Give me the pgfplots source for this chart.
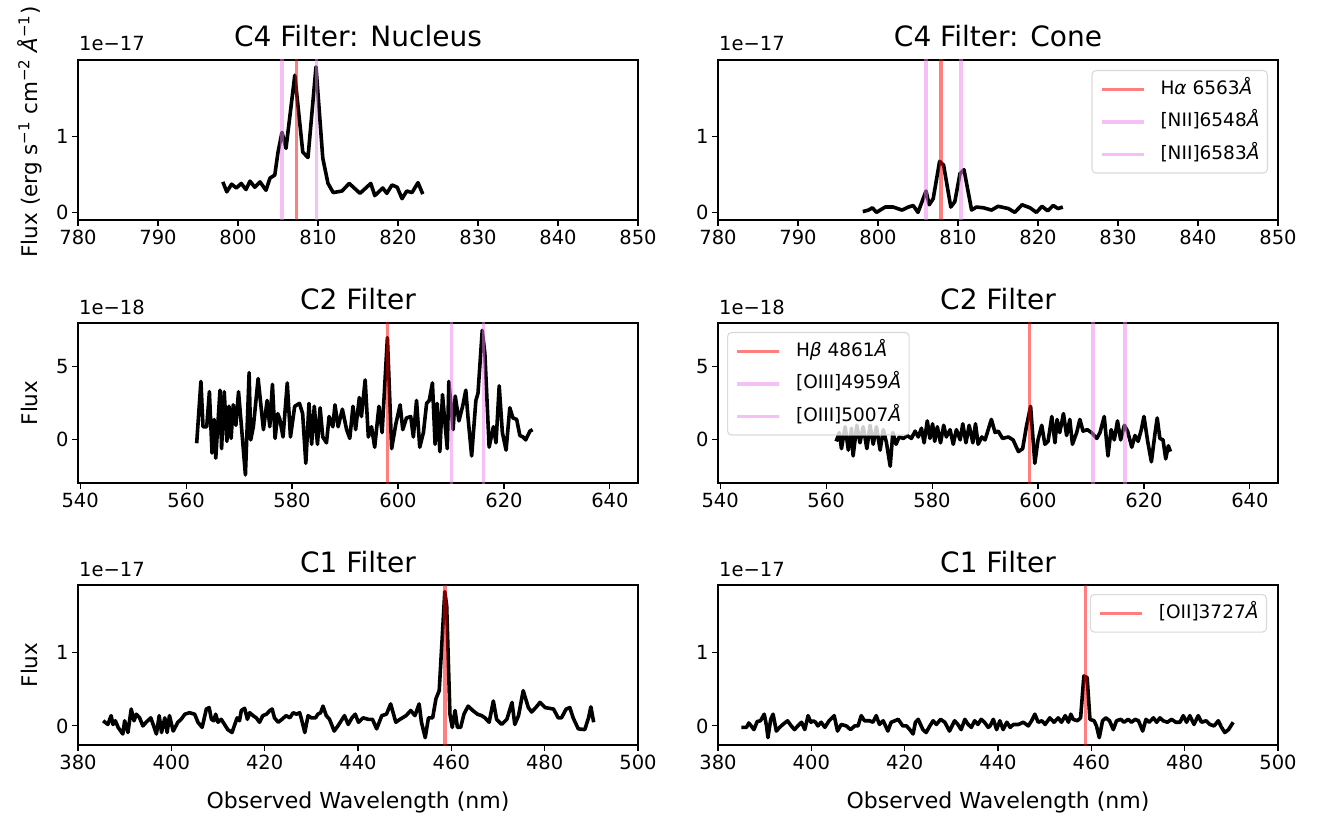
\documentclass[border=0pt]{standalone}
\usepackage{pgfplots}
\pgfplotsset{compat=1.18}
\usepackage{fontspec}
\setmainfont{DejaVu Sans}
\definecolor{nii}{RGB}{238,130,238}
\pgfplotsset{
  panel/.style={
    scale only axis, width=560pt, height=160pt,
    axis line style={line width=1.1pt},
    every tick/.style={line width=1.1pt, black},
    major tick length=6pt,
    tick align=outside,
    tick pos=left,
    /pgf/number format/assume math mode=true,
    tick label style={font=\fontsize{19.5}{22}\selectfont},
    every axis title/.style={at={(axis description cs:0.5,1.08125)}, anchor=base, font=\fontsize{28}{30}\selectfont, inner sep=0pt},
    every axis y label/.style={at={(axis description cs:-0.0732,0.5)}, rotate=90, anchor=base, inner sep=0pt, font=\fontsize{21.5}{24}\selectfont},
    every axis x label/.style={at={(axis description cs:0.5,-0.39375)}, anchor=base, inner sep=0pt, font=\fontsize{22}{24}\selectfont},
    legend cell align=left,
    legend image code/.code={\draw[#1, line width=3.5pt] (0pt,0pt) -- (42pt,0pt);},
    legend style={draw=black!18, line width=1.1pt, fill=white, fill opacity=0.8, draw opacity=0.8, text opacity=1,
      rounded corners=4pt, inner xsep=8pt, inner ysep=10pt,
      font=\fontsize{18.5}{20}\selectfont, row sep=15pt, column sep=15pt,
      nodes={inner sep=0pt, text height=13.5pt, text depth=4pt}},
  },
  dat/.style={black, line width=3.6pt, line join=round, mark=none},
  hline/.style={red, opacity=0.5, line width=3.5pt, mark=none},
  nline/.style={nii, opacity=0.5, line width=3.5pt, mark=none},
}
\newcommand{\offs}[2]{\node[anchor=base west, inner sep=0pt, font=\fontsize{19.5}{22}\selectfont] at ([xshift=1pt,yshift=9pt]#1.north west) {#2};}
\begin{document}
\begin{tikzpicture}
\path[use as bounding box] (0,0) rectangle (1327pt,-821pt);

% ---------------- Top left
\begin{axis}[panel, name=tl, at={(78pt,-220pt)}, anchor=south west,
  xmin=780, xmax=850, ymin=-0.1, ymax=2.0, xtick={780,790,...,850}, ytick={0,1},
  title={C4 Filter: Nucleus},
  ylabel={Flux (erg s\textsuperscript{−1} cm\textsuperscript{−2} \textit{Å}\textsuperscript{−1})},
  ylabel style={at={(axis description cs:-0.0732,0.55)}}]
\addplot[dat] coordinates {
(798.1,0.40) (798.6,0.27) (799.2,0.37) (799.8,0.32) (800.4,0.38) (801.0,0.30) (801.5,0.41) (802.1,0.33)
(802.75,0.40) (803.5,0.29) (804.0,0.45) (804.6,0.49) (805.0,0.79) (805.5,1.05) (806.0,0.84) (807.1,1.80)
(808.1,0.79) (808.75,0.72) (809.75,1.91) (810.6,0.71) (811.25,0.38) (811.9,0.26) (813.0,0.28) (813.9,0.38)
(815.25,0.25) (816.6,0.38) (817.1,0.22) (818.1,0.32) (818.6,0.25) (819.25,0.36) (819.9,0.33) (820.5,0.18)
(821.1,0.28) (821.75,0.26) (822.5,0.39) (823.1,0.24)};
\addplot[hline] coordinates {(807.3,-5) (807.3,5)};
\addplot[nline] coordinates {(805.5,-5) (805.5,5)};
\addplot[nline] coordinates {(809.8,-5) (809.8,5)};
\end{axis}
\offs{tl}{1e−17}

% ---------------- Top right
\begin{axis}[panel, name=tr, at={(718pt,-220pt)}, anchor=south west,
  xmin=780, xmax=850, ymin=-0.1, ymax=2.0, xtick={780,790,...,850}, ytick={0,1},
  title={C4 Filter: Cone},
  legend style={at={(1,1)}, anchor=north east, xshift=-10pt, yshift=-10pt}]
\addplot[dat, forget plot] coordinates {
(798.1,0.01) (798.8,0.03) (799.3,0.06) (799.8,0.00) (800.9,0.07) (801.9,0.07) (803.0,0.03) (803.8,0.07)
(804.4,0.09) (805.0,0.00) (806.0,0.28) (806.4,0.10) (806.9,0.18) (807.7,0.67) (808.2,0.62) (809.1,0.07)
(809.6,0.14) (810.25,0.51) (810.75,0.56) (811.7,0.03) (812.3,0.07) (813.2,0.06) (814.2,0.03) (815.0,0.08)
(816.3,0.05) (817.1,0.00) (818.0,0.10) (819.0,0.06) (819.8,0.00) (820.5,0.08) (821.2,0.02) (821.9,0.09)
(822.5,0.05) (823.1,0.07)};
\addplot[hline] coordinates {(807.9,-5) (807.9,5)};
\addlegendentry{H\textit{α} 6563\textit{Å}}
\addplot[nline] coordinates {(806.0,-5) (806.0,5)};
\addlegendentry{[NII]6548\textit{Å}}
\addplot[nline] coordinates {(810.4,-5) (810.4,5)};
\addlegendentry{[NII]6583\textit{Å}}
\end{axis}
\offs{tr}{1e−17}

% ---------------- Middle left
\begin{axis}[panel, name=ml, at={(78pt,-483pt)}, anchor=south west,
  xmin=539.6, xmax=645.3, ymin=-2.95, ymax=8.0, xtick={540,560,...,640}, ytick={0,5},
  title={C2 Filter}, ylabel={Flux}]
\addplot[dat] coordinates {
(562.0,-0.23) (562.8,4.0) (563.2,0.9) (563.9,0.9) (564.4,3.3) (564.9,-0.9) (565.3,1.4) (565.6,-1.25)
(566.4,3.4) (566.7,-0.6) (567.2,3.3) (567.7,-0.1) (568.1,2.3) (568.5,0.1) (568.9,2.4) (569.4,1.0)
(569.9,3.3) (570.5,0.7) (571.2,-2.4) (571.9,4.6) (572.2,0.0) (572.7,0.9) (573.6,4.2) (574.6,0.7)
(575.3,2.7) (575.8,0.9) (576.3,3.8) (576.8,0.1) (577.3,1.8) (577.7,1.4) (578.3,0.2) (579.1,3.9)
(579.7,0.2) (580.5,2.3) (581.4,2.5) (582.0,1.8) (582.6,-1.6) (583.2,2.5) (583.7,-0.3) (584.2,2.3)
(584.8,-0.3) (585.3,2.2) (585.8,0.2) (586.5,-0.2) (587.0,1.6) (587.7,0.9) (588.1,2.4) (588.7,0.9)
(589.5,2.1) (590.3,0.7) (590.9,0.1) (591.5,2.3) (592.0,0.7) (592.7,2.9) (593.1,1.6) (593.8,4.1)
(594.4,0.2) (595.0,0.9) (595.6,-0.5) (596.4,2.3) (597.0,0.5) (598.0,7.0) (598.8,-0.6) (599.6,1.1)
(600.4,2.4) (600.9,0.7) (601.6,1.5) (602.4,1.6) (602.9,0.2) (603.5,2.7) (604.1,-0.5) (604.8,0.5)
(605.4,2.5) (605.9,2.7) (606.5,3.9) (607.0,-0.3) (607.4,2.5) (607.9,-0.8) (608.4,3.1) (608.8,1.4)
(609.3,-0.6) (609.6,4.0) (610.4,0.7) (610.8,3.0) (611.5,1.3) (612.2,2.3) (612.8,3.4) (613.2,1.6)
(613.9,-1.1) (614.7,2.7) (615.1,3.2) (615.9,7.5) (616.4,5.9) (617.2,-0.5) (618.0,0.9) (618.5,-0.2)
(619.1,3.7) (619.7,0.5) (620.4,-0.7) (621.1,2.2) (621.7,1.5) (622.4,1.4) (623.0,0.3) (623.6,0.2)
(624.1,0.0) (624.9,0.6) (625.4,0.7)};
\addplot[hline] coordinates {(598.0,-20) (598.0,20)};
\addplot[nline] coordinates {(610.1,-20) (610.1,20)};
\addplot[nline] coordinates {(616.1,-20) (616.1,20)};
\end{axis}
\offs{ml}{1e−18}

% ---------------- Middle right
\begin{axis}[panel, name=mr, at={(718pt,-483pt)}, anchor=south west,
  xmin=539.6, xmax=645.3, ymin=-2.95, ymax=8.0, xtick={540,560,...,640}, ytick={0,5},
  title={C2 Filter},
  legend style={at={(0,1)}, anchor=north west, xshift=9pt, yshift=-9pt}]
\addplot[dat, forget plot] coordinates {
(561.9,-0.1) (562.5,0.5) (562.9,-0.6) (563.6,0.9) (564.2,-0.7) (564.8,0.8) (565.1,-1.1) (565.8,1.0)
(566.4,-0.2) (567.0,0.9) (567.7,-0.6) (568.3,1.0) (568.9,-0.3) (569.5,0.9) (570.2,-0.7) (570.8,0.7)
(571.4,-0.2) (572.1,-1.8) (572.6,0.5) (573.2,-0.3) (573.8,0.2) (574.6,0.1) (575.3,0.3) (576.1,0.1)
(576.8,0.6) (577.4,0.2) (578.0,0.8) (578.5,-0.2) (579.1,1.3) (579.6,0.1) (580.1,1.1) (580.5,-0.1)
(581.0,0.9) (581.6,-0.2) (582.2,1.0) (582.7,0.2) (583.4,0.7) (584.0,-0.3) (584.6,0.7) (585.3,0.0)
(585.8,1.1) (586.4,-0.2) (587.0,1.0) (587.7,-0.2) (588.2,1.1) (588.7,-0.3) (589.4,0.2) (590.0,0.0)
(590.6,0.7) (591.2,1.4) (591.9,0.5) (592.5,0.6) (593.3,0.1) (594.4,0.2) (595.3,0.0) (596.3,-0.8)
(597.1,-0.6) (597.8,0.9) (598.6,2.3) (599.4,-1.6) (600.0,0.0) (600.7,1.0) (601.3,-0.3) (601.9,-0.1)
(602.6,1.6) (603.2,-0.2) (603.6,1.4) (604.1,0.5) (604.8,1.8) (605.4,0.3) (606.0,1.4) (606.5,-0.3)
(607.3,0.5) (607.9,1.4) (608.5,0.6) (609.3,0.7) (610.1,0.5) (611.1,0.1) (611.7,0.5) (612.5,1.6)
(613.2,-1.1) (613.8,0.7) (614.4,0.0) (615.0,1.3) (615.6,0.0) (616.3,1.0) (616.9,0.6) (617.7,-0.5)
(618.3,0.3) (618.9,-0.1) (619.5,0.7) (620.0,1.6) (620.7,-0.1) (621.4,-1.5) (622.1,0.5) (622.5,1.5)
(623.0,0.1) (623.6,0.0) (624.1,-1.3) (624.6,-0.4) (625.0,-0.8)};
\addplot[hline] coordinates {(598.4,-20) (598.4,20)};
\addlegendentry{H\textit{β} 4861\textit{Å}}
\addplot[nline] coordinates {(610.4,-20) (610.4,20)};
\addlegendentry{[OIII]4959\textit{Å}}
\addplot[nline] coordinates {(616.4,-20) (616.4,20)};
\addlegendentry{[OIII]5007\textit{Å}}
\end{axis}
\offs{mr}{1e−18}

% ---------------- Bottom left
\begin{axis}[panel, name=bl, at={(78pt,-745pt)}, anchor=south west,
  xmin=380, xmax=500, ymin=-0.26, ymax=1.92, xtick={380,400,...,500}, ytick={0,1},
  title={C1 Filter}, ylabel={Flux}, xlabel={Observed Wavelength (nm)}]
\addplot[dat] coordinates {
(385.4,0.07) (386.4,0.02) (387.1,0.14) (387.5,0.02) (388.0,0.07) (388.6,-0.02) (389.6,-0.11) (390.0,0.07)
(390.7,-0.09) (391.4,0.23) (392.0,0.07) (392.5,0.16) (393.2,0.11) (393.9,0.00) (394.6,0.05) (395.6,0.11)
(396.1,0.02) (396.8,-0.11) (397.4,0.14) (397.9,-0.09) (398.6,0.11) (399.1,-0.09) (399.6,0.14) (400.4,-0.07)
(401.4,0.05) (402.1,0.09) (402.9,0.16) (403.9,0.18) (405.0,0.16) (405.7,0.05) (406.6,-0.02) (407.5,0.23)
(408.1,0.25) (408.6,0.09) (409.1,0.07) (409.5,0.16) (410.0,0.05) (410.7,0.09) (411.4,0.02) (412.1,-0.05)
(413.0,-0.09) (413.6,0.02) (414.1,0.11) (414.6,0.07) (415.0,0.21) (415.7,0.24) (416.3,0.09) (416.8,0.18)
(417.5,0.14) (418.2,0.11) (418.9,0.05) (419.6,0.14) (420.4,0.16) (421.1,0.21) (421.6,0.23) (422.1,0.11)
(422.9,0.05) (423.7,0.09) (424.6,0.14) (425.4,0.11) (426.1,0.18) (426.8,0.16) (427.5,0.18) (427.9,0.09)
(428.6,-0.09) (429.3,0.14) (430.0,0.11) (430.9,0.11) (431.4,0.16) (432.0,0.18) (432.5,0.27) (433.2,0.14)
(433.9,0.09) (434.9,-0.07) (435.7,0.00) (436.4,0.07) (437.1,0.14) (437.9,0.02) (438.7,0.11) (439.4,0.16)
(440.1,0.05) (441.1,0.11) (442.2,0.09) (443.1,0.09) (444.0,-0.04) (445.1,0.14) (446.1,0.16) (447.0,0.30)
(448.1,0.05) (449.0,0.09) (450.3,0.14) (451.3,0.21) (452.2,0.14) (453.1,0.30) (453.6,0.05) (454.4,-0.16)
(455.1,0.11) (456.0,0.11) (456.7,0.37) (457.4,0.48) (458.6,1.83) (459.0,1.64) (459.7,0.16) (460.2,-0.02)
(460.8,0.21) (461.3,-0.02) (462.0,-0.02) (462.7,0.16) (463.6,0.27) (464.6,0.21) (465.6,0.16) (466.5,0.14)
(467.2,0.11) (468.1,0.05) (469.0,0.34) (469.7,0.09) (470.8,0.02) (471.9,0.09) (473.0,0.32) (473.6,0.02)
(474.4,0.14) (475.4,0.48) (476.5,0.25) (477.2,0.19) (478.1,0.25) (479.0,0.32) (480.1,0.25) (481.0,0.24)
(481.9,0.23) (482.9,0.11) (483.6,0.11) (484.6,0.23) (485.4,0.25) (486.1,0.11) (487.2,-0.04) (488.6,-0.05)
(489.4,0.11) (489.9,0.26) (490.5,0.05)};
\addplot[hline] coordinates {(458.6,-5) (458.6,5)};
\end{axis}
\offs{bl}{1e−17}

% ---------------- Bottom right
\begin{axis}[panel, name=br, at={(718pt,-745pt)}, anchor=south west,
  xmin=380, xmax=500, ymin=-0.26, ymax=1.92, xtick={380,400,...,500}, ytick={0,1},
  title={C1 Filter}, xlabel={Observed Wavelength (nm)},
  legend style={at={(1,1)}, anchor=north east, xshift=-11pt, yshift=-9pt}]
\addplot[dat, forget plot] coordinates {
(385.0,-0.02) (386.1,-0.02) (386.6,0.04) (387.1,0.00) (387.7,-0.05) (388.4,0.06) (389.1,0.07) (389.9,0.16)
(390.4,0.00) (390.7,-0.16) (391.3,0.09) (391.8,0.16) (392.5,-0.07) (393.2,-0.02) (393.9,0.02) (394.9,0.07)
(395.7,0.00) (396.4,-0.05) (397.1,0.00) (397.9,0.05) (398.6,-0.05) (399.3,0.14) (399.9,0.05) (400.4,0.07)
(400.9,0.05) (401.4,0.00) (402.1,0.05) (402.9,-0.02) (403.8,0.07) (404.9,0.14) (405.6,-0.07) (406.4,0.02)
(407.5,0.00) (408.4,-0.05) (409.3,0.00) (410.0,0.00) (410.7,0.14) (411.4,0.07) (412.5,0.07) (413.2,0.05)
(413.9,0.14) (414.6,0.02) (415.4,0.07) (416.4,-0.07) (417.1,0.05) (417.9,0.07) (418.6,0.09) (419.6,0.00)
(420.4,0.00) (421.1,-0.05) (421.8,-0.11) (422.3,0.05) (422.9,0.09) (423.4,0.02) (423.9,-0.05) (424.6,-0.09)
(425.4,0.00) (426.1,0.07) (426.8,0.02) (427.7,0.09) (428.6,0.05) (429.6,-0.07) (430.7,0.07) (431.4,0.02)
(432.1,-0.05) (432.9,0.09) (433.6,0.02) (434.3,-0.02) (435.0,0.07) (435.7,0.02) (436.4,0.09) (437.1,0.05)
(437.9,-0.02) (438.3,0.00) (439.0,0.09) (439.7,-0.05) (440.4,0.07) (441.1,-0.05) (441.9,0.05) (442.6,-0.02)
(443.3,0.02) (444.4,0.02) (445.4,0.05) (446.5,0.00) (447.2,0.07) (447.9,0.16) (448.6,0.05) (449.4,0.07)
(450.1,0.02) (451.1,0.11) (452.0,0.05) (452.9,0.11) (453.6,0.05) (454.4,0.14) (455.1,0.05) (455.6,0.16)
(456.1,0.09) (457.0,0.07) (457.7,0.11) (458.4,0.68) (459.1,0.66) (459.7,0.09) (460.6,0.07) (461.1,0.00)
(461.7,-0.16) (462.4,0.07) (463.1,0.11) (463.9,0.07) (464.7,-0.05) (465.4,0.07) (466.3,0.09) (467.0,0.05)
(467.9,0.09) (468.6,0.05) (469.4,0.09) (470.1,0.07) (471.0,-0.07) (471.7,0.09) (472.4,0.05) (473.3,0.11)
(474.0,0.05) (474.7,0.11) (475.4,0.07) (476.3,0.05) (477.2,0.09) (478.1,0.05) (479.0,0.05) (479.7,0.14)
(480.4,0.05) (481.1,0.14) (482.0,0.02) (482.9,0.14) (483.6,0.05) (484.6,0.07) (485.4,0.02) (486.3,0.00)
(487.2,0.07) (487.9,-0.02) (488.6,-0.09) (489.4,-0.05) (490.4,0.05)};
\addplot[hline] coordinates {(458.8,-5) (458.8,5)};
\addlegendentry{[OII]3727\textit{Å}}
\end{axis}
\offs{br}{1e−17}
\end{tikzpicture}
\end{document}
